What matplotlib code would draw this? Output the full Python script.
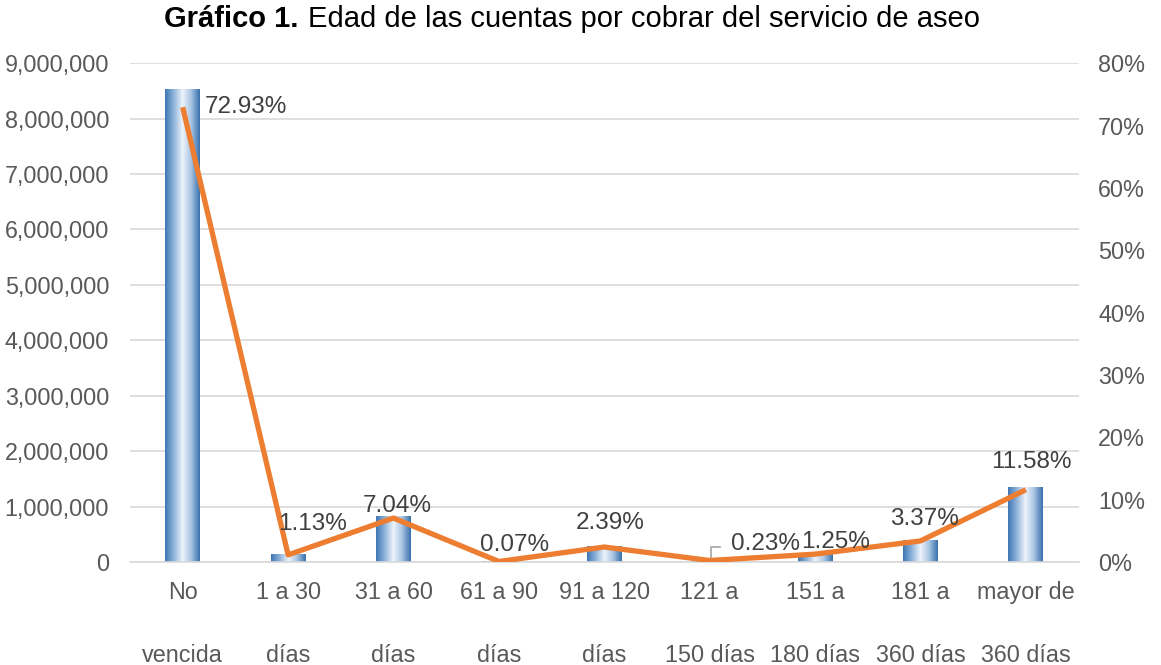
import numpy as np
import matplotlib.pyplot as plt
from matplotlib.colors import LinearSegmentedColormap

plt.rcParams['font.family'] = ['Liberation Sans', 'DejaVu Sans']

categories = ["No\nvencida", "1 a 30\ndías", "31 a 60\ndías", "61 a 90\ndías", "91 a 120\ndías",
              "121 a\n150 días", "151 a\n180 días", "181 a\n360 días", "mayor de\n360 días"]
amounts = [8520000, 132000, 822000, 8000, 279000, 27000, 146000, 394000, 1353000]
shares = [72.93, 1.13, 7.04, 0.07, 2.39, 0.23, 1.25, 3.37, 11.58]
share_labels = ["72.93%", "1.13%", "7.04%", "0.07%", "2.39%", "0.23%", "1.25%", "3.37%", "11.58%"]

fig = plt.figure(figsize=(11.61, 6.65), dpi=100)
ax = fig.add_axes([0.112, 0.155, 0.817, 0.75])
x = np.arange(len(categories))
width = 0.33

grad = LinearSegmentedColormap.from_list("g", ["#3f78b4", "#8fb4da", "#eef4fb", "#a9c5e3", "#3a72ad"])
bars = ax.bar(x, amounts, width, color="none", zorder=2)
g = np.linspace(0, 1, 64).reshape(1, -1)
for b in bars:
    ax.imshow(g, cmap=grad, aspect="auto", zorder=2,
              extent=(b.get_x(), b.get_x() + b.get_width(), 0, b.get_height()))

ax.set_xlim(-0.5, len(categories) - 0.5)
ax.set_ylim(0, 9000000)
ax.set_yticks(np.arange(0, 9000001, 1000000))
ax.set_yticklabels([f"{v:,}" for v in range(0, 9000001, 1000000)])
ax.grid(axis="y", color="#d9d9d9", linewidth=1.2, zorder=0)
ax.set_axisbelow(True)
for s in ["top", "right", "left"]:
    ax.spines[s].set_visible(False)
ax.spines["bottom"].set_color("#d9d9d9")
ax.spines["bottom"].set_linewidth(1.2)
ax.tick_params(length=0, labelsize=16.8, labelcolor="#595959")
ax.tick_params(axis="y", pad=15)
ax.set_xticks(x)
ax.set_xticklabels(categories)
for lbl in ax.get_xticklabels():
    lbl.set_linespacing(3.2)
ax.tick_params(axis="x", pad=14)

ax2 = ax.twinx()
ax2.plot(x, shares, color="#ed7d31", linewidth=3.8, zorder=3, solid_capstyle="butt")
ax2.set_ylim(0, 80)
ax2.set_yticks(np.arange(0, 81, 10))
ax2.set_yticklabels([f"{v}%" for v in range(0, 81, 10)])
for s in ["top", "right", "left", "bottom"]:
    ax2.spines[s].set_visible(False)
ax2.tick_params(length=0, labelsize=16.8, labelcolor="#595959", pad=14)

offsets = [(16, 0, "left"), (-7, 22, "left"), (3, 9, "center"), (11, 12, "center"),
           (4, 17, "center"), (15, 12, "left"), (-10, 9, "left"), (3, 16, "center"), (4, 20, "center")]
for xi, yi, lab, (dx, dy, ha) in zip(x, shares, share_labels, offsets):
    ax2.annotate(lab, (xi, yi), xytext=(dx, dy), textcoords="offset points",
                 ha=ha, va="center", fontsize=17.5, color="#404040", zorder=4)
# leader lines
ax2.plot([x[1] + 0.03, x[1] + 0.22], [shares[1] + 0.2, 2.6], color="#a6a6a6", lw=1.2, zorder=1)
ax2.plot([x[5] + 0.01, x[5] + 0.01, x[5] + 0.1], [0.4, 2.4, 2.4], color="#a6a6a6", lw=1.2, zorder=1)

# title: bold lead + regular text
t1 = fig.text(0.1415, 0.972, "Gráfico 1.", ha="left", va="center", fontsize=21,
              fontweight="bold", color="#000000")
fig.canvas.draw()
bb = t1.get_window_extent()
x_end = fig.transFigure.inverted().transform((bb.x1, bb.y0))[0]
fig.text(x_end + 0.008, 0.972, "Edad de las cuentas por cobrar del servicio de aseo",
         ha="left", va="center", fontsize=21, color="#000000")

fig.savefig("out.png", dpi=100)
